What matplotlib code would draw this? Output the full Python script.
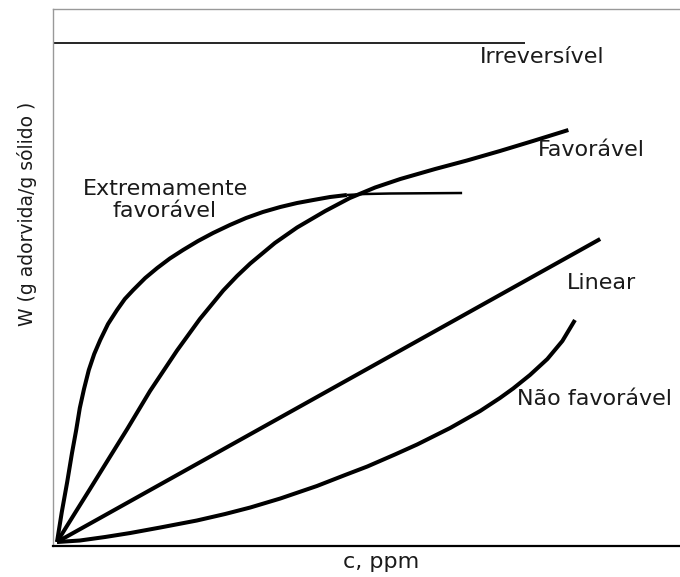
import matplotlib
matplotlib.use("Agg")
import matplotlib.pyplot as plt

# isotherm shapes (c on x, W on y, arbitrary units)
ext_x = [0, 0.08, 0.17, 0.25, 0.32, 0.38, 0.45, 0.53, 0.62, 0.72, 0.85, 1.00,
         1.13, 1.27, 1.47, 1.67, 1.88, 2.10, 2.35, 2.60, 2.88, 3.15, 3.43, 3.72,
         4.00, 4.27, 4.55, 4.83]
ext_y = [0, 0.60, 1.20, 1.78, 2.24, 2.68, 3.06, 3.44, 3.76, 4.04, 4.36, 4.64,
         4.86, 5.04, 5.28, 5.48, 5.67, 5.84, 6.02, 6.18, 6.34, 6.48, 6.60, 6.70,
         6.78, 6.84, 6.90, 6.94]
ext_flat_x = [4.83, 5.13, 5.55, 6.75]
ext_flat_y = [6.94, 6.96, 6.97, 6.98]

fav_x = [0, 0.30, 0.55, 0.88, 1.17, 1.55, 2.00, 2.38, 2.77, 3.00, 3.22, 3.63,
         4.00, 4.47, 4.88, 5.30, 5.72, 6.30, 6.83, 7.38, 7.93, 8.52]
fav_y = [0, 0.58, 1.06, 1.70, 2.26, 3.02, 3.83, 4.46, 5.03, 5.32, 5.57, 5.98,
         6.29, 6.62, 6.88, 7.09, 7.26, 7.46, 7.63, 7.82, 8.02, 8.24]

lin_x = [0, 9.05]
lin_y = [0, 6.06]

nfav_x = [0, 0.38, 0.80, 1.22, 1.72, 2.33, 2.80, 3.22, 3.72, 4.33, 4.80, 5.17,
          5.63, 6.00, 6.55, 7.05, 7.38, 7.60, 7.88, 8.17, 8.42, 8.63]
nfav_y = [0, 0.03, 0.10, 0.18, 0.29, 0.43, 0.56, 0.69, 0.87, 1.12, 1.34, 1.51,
          1.75, 1.95, 2.28, 2.62, 2.88, 3.07, 3.34, 3.66, 4.02, 4.44]

irr_x = [-0.07, 7.80]
irr_y = [9.98, 9.98]

labels = ["Irreversível", "Favorável", "Extremamente\nfavorável", "Linear", "Não favorável"]
label_x = [7.05, 8.02, 1.80, 8.50, 7.67]
label_y = [9.70, 7.84, 6.84, 5.18, 2.86]
label_ha = ["left", "left", "center", "left", "left"]

fig = plt.figure(figsize=(6.8, 5.77), dpi=100)
ax = fig.add_axes([0.0779, 0.0537, 0.9221, 0.9307])

lw = 2.9
style = dict(color="black", solid_joinstyle="round", solid_capstyle="butt")
ax.plot(ext_x, ext_y, lw=lw, **style)
ax.plot(ext_flat_x, ext_flat_y, lw=1.8, **style)
ax.plot(fav_x, fav_y, lw=lw, **style)
ax.plot(lin_x, lin_y, lw=lw, **style)
ax.plot(nfav_x, nfav_y, lw=lw, **style)
ax.plot(irr_x, irr_y, lw=1.2, **style)

for t, x, y, ha in zip(labels, label_x, label_y, label_ha):
    ax.text(x, y, t, ha=ha, va="center", fontsize=16, color="#1a1a1a",
            family="DejaVu Sans", linespacing=1.15)

ax.set_xlim(-0.067, 10.38)
ax.set_ylim(-0.08, 10.66)
ax.set_xticks([])
ax.set_yticks([])

ax.spines["right"].set_visible(False)
ax.spines["left"].set_color("#999999")
ax.spines["left"].set_linewidth(1.0)
ax.spines["top"].set_color("#999999")
ax.spines["top"].set_linewidth(1.0)
ax.spines["bottom"].set_color("black")
ax.spines["bottom"].set_linewidth(1.6)

ax.set_xlabel("c, ppm", fontsize=16, color="#1a1a1a")
ax.xaxis.set_label_coords(0.523, -0.012)
ax.set_ylabel("W (g adorvida/g sólido )", fontsize=13.5, color="#1a1a1a")
ax.yaxis.set_label_coords(-0.026, 0.618)

fig.savefig("out.png", dpi=100)
